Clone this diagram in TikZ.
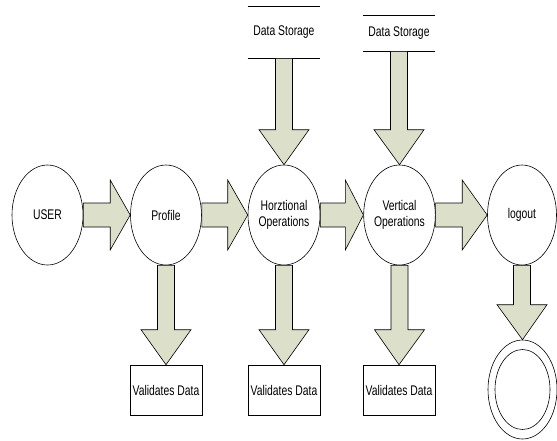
\documentclass[tikz,border=0pt]{standalone}
\usepackage{fontspec}
\setmainfont{Liberation Sans}
\usepackage{graphicx}
\usetikzlibrary{calc,shapes.geometric}
\definecolor{arrowgreen}{RGB}{220,224,203}
\newcommand{\nm}[1]{\scalebox{0.74}[1]{#1}}
\newcommand{\harr}[3]{%
	\path[arr] let \p1=(#1.east), \p2=(#2.west) in
		(\x1,{\y1+12pt}) -- ({\x2-#3pt},{\y1+12pt}) -- ({\x2-#3pt},{\y1+35pt}) -- (\x2,\y2)
		-- ({\x2-#3pt},{\y1-35pt}) -- ({\x2-#3pt},{\y1-12pt}) -- (\x1,{\y1-12pt}) -- cycle;}
\newcommand{\varr}[2]{%
	\path[arr] let \p1=(#1.south), \p2=(#2.north) in
		({\x1-8.5pt},\y1) -- ({\x1-8.5pt},{\y2+35pt}) -- ({\x1-25pt},{\y2+35pt}) -- (\x2,\y2)
		-- ({\x1+25pt},{\y2+35pt}) -- ({\x1+8.5pt},{\y2+35pt}) -- ({\x1+8.5pt},\y1) -- cycle;}

\begin{document}
\begin{tikzpicture}[x=1pt,y=-1pt,line width=0.6pt,
	every node/.style={font=\fontsize{14}{16}\selectfont},
	proc/.style={ellipse,draw,minimum width=71pt,minimum height=100pt,inner sep=0pt,align=center},
	valid/.style={rectangle,draw,minimum width=72pt,minimum height=50pt,inner sep=1pt},
	store/.style={minimum width=72pt,inner sep=0pt},
	arr/.style={draw,fill=arrowgreen,line join=miter}]
	\useasboundingbox (0,0) rectangle (557,440);
	\node[proc] (user) at (47.5,215) {\nm{USER}};
	\node[proc] (profile) at (166,215) {\nm{Profile}};
	\node[proc,minimum width=72pt] (horz) at (284,215) {\nm{Horztional}\\\nm{Operations}};
	\node[proc] (vert) at (399.5,215) {\nm{Vertical}\\\nm{Operations}};
	\node[proc,minimum width=69pt] (logout) at (522,215) {\nm{logout}};
	\node[store,minimum height=51pt] (ds1) at (284,32.5) {\nm{Data Storage}};
	\node[store,minimum height=35pt] (ds2) at (399,33.5) {\nm{Data Storage}};
	\draw (ds1.north west) -- (ds1.north east) (ds1.south west) -- (ds1.south east);
	\draw (ds2.north west) -- (ds2.north east) (ds2.south west) -- (ds2.south east);
	\node[valid] (val1) at (166,390) {\nm{Validates Data}};
	\node[valid] (val2) at (284,390) {\nm{Validates Data}};
	\node[valid] (val3) at (399,390) {\nm{Validates Data}};
	\node[ellipse,draw,minimum width=69pt,minimum height=99pt,inner sep=0pt] (final) at (522.5,389.5) {};
	\draw (final.center) ellipse [x radius=27.5pt,y radius=40pt];
	\harr{user}{profile}{20}
	\harr{profile}{horz}{20}
	\harr{horz}{vert}{18}
	\harr{vert}{logout}{25}
	\varr{ds1}{horz}
	\varr{ds2}{vert}
	\varr{profile}{val1}
	\varr{horz}{val2}
	\varr{vert}{val3}
	\varr{logout}{final}
\end{tikzpicture}
\end{document}
